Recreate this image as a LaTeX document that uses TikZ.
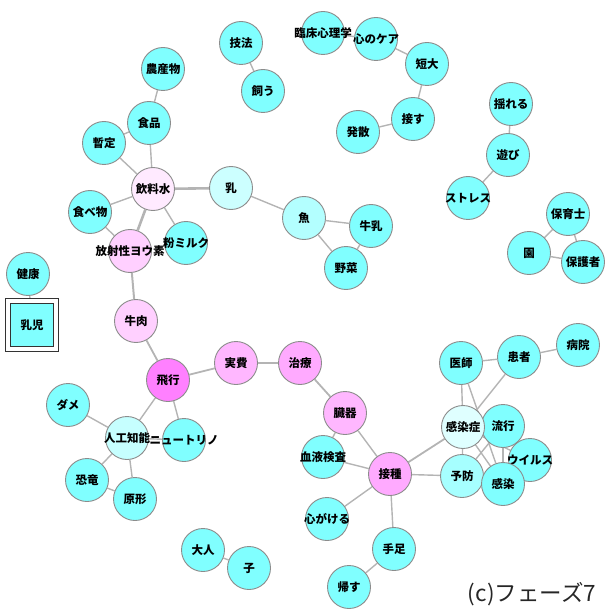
\documentclass[tikz,border=0pt]{standalone}
\usepackage{fontspec}
\newfontfamily\jp{Noto Sans CJK JP}
\usetikzlibrary{backgrounds}
\definecolor{wcyan}{HTML}{80FFFF}
\definecolor{wpink}{HTML}{FFAAFF}
\definecolor{wfly}{HTML}{FF80FF}
\definecolor{wedge}{HTML}{B4B4B4}
\definecolor{wrim}{HTML}{8C8C8C}

\begin{document}
\begin{tikzpicture}[x=1pt, y=-1pt,
	word/.style={circle, draw=wrim, line width=0.9pt, fill=wcyan, minimum size=43pt, inner sep=0pt,
		font=\jp\bfseries\fontsize{11.5}{12}\selectfont,
		execute at begin node={\hbox to 0pt\bgroup\hss}, execute at end node={\hss\egroup}},
	hot/.style={word, fill=wpink},
	link/.style={draw=wedge, line width=1.4pt},
	heavy/.style={link, line width=2.6pt}]
	\useasboundingbox (0,0) rectangle (606,612);
	% top left
	\node[word] (gihou) at (241,43) {技法};
	\node[word] (kau) at (263,91) {飼う};
	\node[word] (nousan) at (163,69) {農産物};
	\node[word] (shokuhin) at (149,123) {食品};
	\node[word] (zantei) at (104,143) {暫定};
	\node[hot, fill=wpink!25] (inryou) at (153,189) {飲料水};
	\node[word, fill=wcyan!40] (nyuu) at (231,188) {乳};
	\node[word] (tabemono) at (90,212) {食べ物};
	\node[word] (konamilk) at (186,243) {粉ミルク};
	\node[hot, fill=wpink!55] (youso) at (130,251) {放射性ヨウ素};
	\node[word] (kenkou) at (28,274) {健康};
	\node[rectangle, draw=black!80, double=white, double distance=4pt, line width=1pt, fill=wcyan, minimum size=48pt, inner sep=0pt, font=\jp\bfseries\fontsize{11.5}{12}\selectfont] (nyuuji) at (32,325) {乳児};
	% top right
	\node[word] (rinshou) at (323,33) {臨床心理学};
	\node[word] (kokoro) at (376,39) {心のケア};
	\node[word] (tandai) at (427,64) {短大};
	\node[word] (sessu) at (413,119) {接す};
	\node[word] (hassan) at (358,132) {発散};
	\node[word] (yureru) at (511,104) {揺れる};
	\node[word] (asobi) at (508,155) {遊び};
	\node[word] (stress) at (468,198) {ストレス};
	\node[word, fill=wcyan!60] (sakana) at (304,218) {魚};
	\node[word] (gyuunyuu) at (371,226) {牛乳};
	\node[word] (yasai) at (346,268) {野菜};
	\node[word] (hoikushi) at (568,214) {保育士};
	\node[word] (en) at (529,253) {園};
	\node[word] (hogosha) at (583,262) {保護者};
	% bottom left
	\node[hot, fill=wpink!55] (gyuuniku) at (136,321) {牛肉};
	\node[hot, fill=wfly] (hikou) at (168,380) {飛行};
	\node[hot, fill=wpink!85] (jippi) at (236,363) {実費};
	\node[hot] (chiryou) at (300,363) {治療};
	\node[word] (dame) at (68,405) {ダメ};
	\node[word, fill=wcyan!45] (jinkou) at (127,438) {人工知能};
	\node[word] (neutrino) at (184,440) {ニュートリノ};
	\node[word] (kyouryuu) at (87,480) {恐竜};
	\node[word] (genkei) at (135,499) {原形};
	\node[word] (otona) at (203,550) {大人};
	\node[word] (ko) at (249,568) {子};
	% bottom right
	\node[hot, fill=wpink!85] (zouki) at (345,413) {臓器};
	\node[word] (ketsueki) at (323,457) {血液検査};
	\node[hot] (sesshu) at (390,474) {接種};
	\node[word] (kokorogake) at (327,519) {心がける};
	\node[word] (teashi) at (394,549) {手足};
	\node[word] (kaesu) at (349,587) {帰す};
	\node[word] (ishi) at (461,363) {医師};
	\node[word] (kanja) at (519,357) {患者};
	\node[word] (byouin) at (578,345) {病院};
	\node[word] (ryuukou) at (503,426) {流行};
	\node[word] (virus) at (530,460) {ウイルス};
	\node[word, fill=wcyan!70] (yobou) at (462,476) {予防};
	\node[word] (kansen) at (503,484) {感染};
	\node[word, fill=wcyan!25] (kansenshou) at (463,427) {感染症};
	\node[font=\jp\fontsize{22.5}{23}\selectfont, text=black!85] (phase) at (532,594) {(c)フェーズ7};

	\begin{scope}[on background layer]
	\draw[link] (gihou) -- (kau);
	\draw[link] (rinshou) -- (kokoro) -- (tandai) -- (sessu) -- (hassan);
	\draw[link] (yureru) -- (asobi) -- (stress);
	\draw[link] (nousan) -- (shokuhin) -- (zantei);
	\draw[link] (shokuhin) -- (inryou) -- (zantei);
	\draw[heavy] (inryou) -- (nyuu);
	\draw[heavy] (inryou) -- (youso);
	\draw[link] (inryou) -- (tabemono) -- (youso);
	\draw[link] (inryou) -- (konamilk);
	\draw[link] (nyuu) -- (sakana) -- (gyuunyuu) -- (yasai) -- (sakana);
	\draw[link] (hoikushi) -- (en) -- (hogosha) -- (hoikushi);
	\draw[link] (kenkou) -- (nyuuji);
	\draw[heavy, line width=2pt] (youso) -- (gyuuniku);
	\draw[link, line width=1.8pt] (gyuuniku) -- (hikou) -- (jippi) -- (chiryou) -- (zouki);
	\draw[link] (hikou) -- (jinkou);
	\draw[link] (hikou) -- (neutrino);
	\draw[link] (jinkou) -- (dame);
	\draw[link] (jinkou) -- (neutrino);
	\draw[link] (jinkou) -- (kyouryuu) -- (genkei) -- (jinkou);
	\draw[link] (otona) -- (ko);
	\draw[link] (zouki) -- (ketsueki) -- (sesshu) -- (zouki);
	\draw[link] (sesshu) -- (kokorogake);
	\draw[link] (sesshu) -- (teashi) -- (kaesu);
	\draw[link, line width=1.8pt] (sesshu) -- (kansenshou);
	\draw[link] (sesshu) -- (yobou);
	\draw[link] (ishi) -- (kanja) -- (byouin);
	\draw[link] (ishi) -- (kansenshou);
	\draw[link] (ishi) -- (kansen);
	\draw[link] (kanja) -- (kansenshou);
	\draw[link] (kansenshou) -- (ryuukou);
	\draw[link] (kansenshou) -- (yobou);
	\draw[link] (kansenshou) -- (kansen);
	\draw[link] (kansenshou) -- (virus);
	\draw[link] (ryuukou) -- (yobou);
	\draw[link, line width=2.2pt] (ryuukou) -- (kansen);
	\draw[link] (ryuukou) -- (virus);
	\draw[link] (yobou) -- (kansen) -- (virus);
	\end{scope}
\end{tikzpicture}
\end{document}
